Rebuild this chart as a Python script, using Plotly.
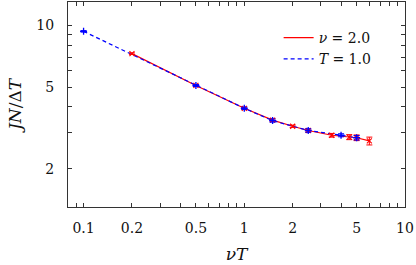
import plotly.graph_objects as go

# nu = 2.0 series (red)
red_x = [0.2, 0.5, 1.0, 1.5, 2.0, 2.5, 3.5, 4.5, 5.0, 6.0]
red_y = [7.28, 5.09, 3.94, 3.45, 3.22, 3.07, 2.91, 2.85, 2.83, 2.73]
red_err = [0.06, 0.05, 0.05, 0.05, 0.04, 0.05, 0.06, 0.08, 0.09, 0.12]

# T = 1.0 series (blue)
blue_x = [0.1, 0.5, 1.0, 1.5, 2.5, 4.0, 5.0]
blue_y = [9.35, 5.09, 3.94, 3.43, 3.07, 2.91, 2.83]
blue_err = [0.08, 0.06, 0.05, 0.06, 0.06, 0.05, 0.07]

x_tickvals = [0.1, 0.2, 0.5, 1, 2, 5, 10]
x_ticktext = ["0.1", "0.2", "0.5", "1", "2", "5", "10"]
x_minor = [0.09, 0.3, 0.4, 0.6, 0.7, 0.8, 0.9, 3, 4, 6, 7, 8, 9]
y_tickvals = [2, 5, 10]
y_ticktext = ["2", "5", "10"]
y_minor = [3, 4, 6, 7, 8, 9]

RED = "#ff0000"
BLUE = "#0000ff"
FONT = "DejaVu Serif"
AX = "#333333"

fig = go.Figure()
fig.add_trace(go.Scatter(x=red_x, y=red_y, mode="lines", line=dict(color=RED, width=1.2),
                         name="<i>ν</i> = 2.0", legendrank=1))
fig.add_trace(go.Scatter(x=blue_x, y=blue_y, mode="lines",
                         line=dict(color=BLUE, width=1.2, dash="4px,3px"),
                         name="<i>T</i> = 1.0", legendrank=2))
fig.add_trace(go.Scatter(x=red_x, y=red_y, mode="markers", showlegend=False,
                         marker=dict(symbol="x-thin", size=5, line=dict(color=RED, width=1.1)),
                         error_y=dict(type="data", array=red_err, color=RED, thickness=1, width=3)))
fig.add_trace(go.Scatter(x=blue_x, y=blue_y, mode="markers", showlegend=False,
                         marker=dict(symbol="cross-thin", size=5, line=dict(color=BLUE, width=1.3)),
                         error_y=dict(type="data", array=blue_err, color=BLUE, thickness=1, width=3)))

common = dict(type="log", showgrid=False, zeroline=False, showline=True, linecolor=AX,
              linewidth=1, mirror="allticks", ticks="inside", ticklen=4, tickcolor=AX,
              tickwidth=1, automargin=False)

fig.update_layout(
    width=416, height=265,
    margin=dict(l=68, r=11, t=2, b=58),
    paper_bgcolor="white", plot_bgcolor="white",
    font=dict(family=FONT, size=14, color="#111111"),
    xaxis=dict(**common, range=[-1.09691, 1.0], tickmode="array", tickvals=x_tickvals,
               ticktext=x_ticktext, ticklabelstandoff=8,
               minor=dict(tickmode="array", tickvals=x_minor, ticks="inside", ticklen=4,
                          tickcolor=AX, tickwidth=1),
               title=dict(text="<i>νT</i>", standoff=13)),
    yaxis=dict(**common, range=[0.11394, 1.11394], tickmode="array", tickvals=y_tickvals,
               ticktext=y_ticktext, ticklabelstandoff=10,
               minor=dict(tickmode="array", tickvals=y_minor, ticks="inside", ticklen=4,
                          tickcolor=AX, tickwidth=1),
               title=dict(text="<i>JN</i>/Δ<i>T</i>", standoff=10)),
    xaxis2=dict(type="log", overlaying="x", anchor="y", range=[-1.09691, 1.0], showgrid=False,
                zeroline=False, showline=False, mirror="allticks", ticks="inside", ticklen=7,
                tickcolor=AX, tickwidth=1, tickmode="array", tickvals=[0.1, 1, 10],
                showticklabels=False, side="bottom", automargin=False),
    yaxis2=dict(type="log", overlaying="y", anchor="x", range=[0.11394, 1.11394], showgrid=False,
                zeroline=False, showline=False, mirror="allticks", ticks="inside", ticklen=7,
                tickcolor=AX, tickwidth=1, tickmode="array", tickvals=[10],
                showticklabels=False, side="left", automargin=False),
    legend=dict(x=0.625, y=0.902, xanchor="left", yanchor="top", bgcolor="rgba(0,0,0,0)",
                font=dict(family=FONT, size=14), itemwidth=30, tracegroupgap=0),
    showlegend=True,
)

fig.write_html("out.html", config={"displayModeBar": False},
               post_script="document.body.style.margin='0';document.body.style.padding='0';")
